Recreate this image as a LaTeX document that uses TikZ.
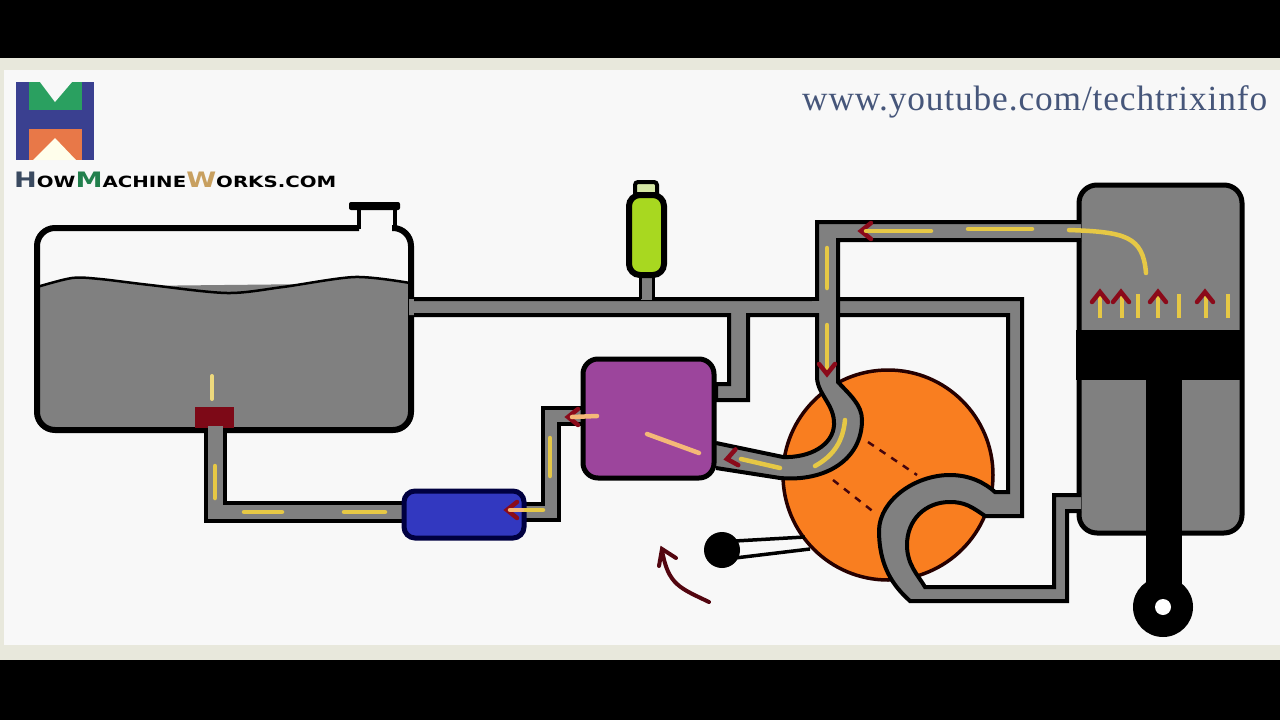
\documentclass[tikz,border=0pt]{standalone}
\usepackage{fontspec}
\usepackage{graphicx}
\setmainfont{Liberation Serif}
\newfontfamily\logofont{DejaVu Sans}
\definecolor{paper}{HTML}{F8F8F8}
\definecolor{frame}{HTML}{E8E8DC}
\definecolor{metal}{HTML}{808080}
\definecolor{fuel}{HTML}{E6C845}
\definecolor{paleb}{HTML}{F4B878}
\definecolor{arrowred}{HTML}{8B0A1A}
\definecolor{pumpc}{HTML}{F97E20}
\definecolor{purplebox}{HTML}{9C459C}
\definecolor{bluebox}{HTML}{3238C0}
\definecolor{lime}{HTML}{A8D820}
\definecolor{urlc}{HTML}{46567A}
\definecolor{logoblue}{HTML}{3A4090}
\definecolor{logogreen}{HTML}{2AA060}
\definecolor{logoorange}{HTML}{E87848}
\definecolor{logoh}{HTML}{3A4A60}
\definecolor{logow}{HTML}{C8A060}
\tikzset{
  pipe/.style={draw=black,line width=4pt,line join=miter},
  dash1/.style={draw=fuel,line width=4.5pt,line cap=round},
  dash2/.style={draw=paleb,line width=4.5pt,line cap=round},
  chev/.style={draw=arrowred,line width=4.5pt,line join=miter,line cap=round},
  pumpdash/.style={draw=black!50!arrowred,line width=2.5pt,dash pattern=on 7pt off 7pt}
}
\newcommand{\chv}[3]{\draw[chev,shift={(#1,#2)},rotate=#3] (-8,10) -- (0,0) -- (8,10);}
\def\mainA{(414,299) -- (1022,299) -- (1022,516) -- (985,516) .. controls (972,507) and (965,502) .. (950,502) .. controls (925,502) and (907,520) .. (907,545) .. controls (907,565) and (918,575) .. (925,587) -- (1054,587) -- (1054,495) -- (1081,495)}
\def\mainB{(1081,511) -- (1067,511) -- (1067,601) -- (910,601) .. controls (892,585) and (879,565) .. (879,530) .. controls (880,500) and (915,475) .. (950,475) .. controls (970,475) and (985,483) .. (995,492) -- (1008,492) -- (1008,315) -- (748,315) -- (748,400) -- (716,400) -- (716,384) -- (729,384) -- (729,315) -- (414,315)}
\def\upA{(1081,222) -- (817,222) -- (817,378) .. controls (818,395) and (835,405) .. (834,425) .. controls (833,445) and (810,458) .. (783,457) -- (716,443)}
\def\upB{(716,468) -- (780,478) .. controls (825,482) and (862,460) .. (862,420) .. controls (862,405) and (850,395) .. (838,382) -- (838,240) -- (1081,240)}
\begin{document}
\begin{tikzpicture}[x=1pt,y=-1pt]
\useasboundingbox (0,0) rectangle (1280,720);
% background
\fill[black] (0,0) rectangle (1280,720);
\fill[frame] (0,58) rectangle (1280,660);
\fill[paper] (4,70) rectangle (1280,645);
% logo
\fill[logoblue] (16,82) rectangle (94,160);
\fill[logogreen] (29,82) rectangle (82,110);
\fill[paper] (40,82) -- (55,102) -- (72,82) -- cycle;
\fill[logoorange] (29,129) rectangle (82,160);
\fill[yellow!8!white] (33,160) -- (55,138) -- (76,160) -- cycle;
\node[inner sep=0pt,anchor=base west] (logotext) at (14,187) {\resizebox{322pt}{15.5pt}{\logofont\bfseries
  {\fontsize{22}{22}\selectfont\color{logoh}H}{\fontsize{16}{16}\selectfont\color{black}OW}{\fontsize{22}{22}\selectfont\color{logogreen!80!black}M}{\fontsize{16}{16}\selectfont\color{black}ACHINE}{\fontsize{22}{22}\selectfont\color{logow}W}{\fontsize{16}{16}\selectfont\color{black}ORKS.COM}}};
\node[inner sep=0pt,anchor=base west] (url) at (802,110) {\resizebox{465pt}{!}{\fontsize{32}{32}\selectfont\addfontfeature{LetterSpace=2.5}\color{urlc}www.youtube.com/techtrixinfo}};
% tank
\fill[metal,rounded corners=15pt] (37,287) -- (37,430) -- (411,430) -- (411,283) -- cycle;
\fill[metal] (37,287) -- plot[smooth] coordinates {(37,287)(72,278)(100,279)(150,285)(227,293)(283,287)(355,277)(410,283)} -- (410,350) -- (37,350) -- cycle;
\draw[black,line width=2.5pt] plot[smooth] coordinates {(37,287)(72,278)(100,279)(150,285)(227,293)(283,287)(355,277)(410,283)};
\draw[black,line width=6pt,rounded corners=18pt,line join=miter] (359,228) -- (37,228) -- (37,430) -- (411,430) -- (411,228) -- (392,228);
\draw[black,line width=4pt] (359,229) -- (359,205);
\draw[black,line width=4pt] (395,229) -- (395,205);
\fill[black,rounded corners=2pt] (349,202) rectangle (400,210);
% valve
\fill[arrowred!90!black] (195,407) rectangle (234,428);
% fuel line tank-filter
\fill[metal] (206,428) -- (206,521) -- (410,521) -- (410,503) -- (225,503) -- (225,428) -- cycle;
\draw[pipe] (206,428) -- (206,521) -- (410,521);
\draw[pipe] (410,503) -- (225,503) -- (225,428);
\fill[metal] (208,426) rectangle (223,434);
% filter-carb
\fill[metal] (515,504) -- (543,504) -- (543,408) -- (590,408) -- (590,424) -- (559,424) -- (559,520) -- (515,520) -- cycle;
\draw[pipe] (515,504) -- (543,504) -- (543,408) -- (590,408);
\draw[pipe] (590,424) -- (559,424) -- (559,520) -- (515,520);
% pump
\draw[black!85!red,fill=pumpc,line width=3.5pt] (888,475) circle (105);
% lever
\draw[black,line width=3.5pt] (735,541) -- (805,537);
\draw[black,line width=3.5pt] (735,558) -- (810,549);
\fill[black] (722,550) circle (18);
% dashed passages
\draw[pumpdash] (868,442) -- (917,475);
\draw[pumpdash] (833,480) -- (875,513);
% cylinder
\draw[black,fill=metal,line width=5pt,rounded corners=18pt] (1079,185) rectangle (1242,533);
\fill[black] (1076,330) rectangle (1244,380);
\fill[black] (1146,380) rectangle (1182,595);
\fill[black] (1163,607) circle (30);
\fill[white] (1163,607) circle (8);
% main pipe
\fill[metal] (409,299) -- \mainA -- \mainB -- (409,315) -- cycle;
\draw[pipe] \mainA;
\draw[pipe] \mainB;
% injector
\fill[metal] (641,276) rectangle (652,300);
\draw[black,line width=3pt] (640,276) -- (640,299);
\draw[black,line width=3pt] (653,276) -- (653,299);
\draw[black,fill=black!10!lime!40!white,line width=4pt,rounded corners=3pt] (635,182) rectangle (657,196);
\draw[black,fill=lime,line width=6pt,rounded corners=11pt] (629,195) rectangle (664,275);
\fill[black] (634,192) rectangle (659,196);
% upper pipe
\fill[metal] \upA -- \upB -- cycle;
\draw[pipe] \upA;
\draw[pipe] \upB;
\fill[metal] (812,301) rectangle (820,313);
% blue filter
\draw[black!75!blue,fill=bluebox,line width=5pt,rounded corners=11pt] (404,491) rectangle (524,538);
% purple box
\draw[black,fill=purplebox,line width=5pt,rounded corners=15pt] (583,359) rectangle (714,478);
% flow marks
\draw[draw=fuel!70!white,line width=4pt,line cap=round] (212,376) -- (212,399);
\draw[dash1] (215,466) -- (215,498);
\draw[dash1] (244,512) -- (282,512);
\draw[dash1] (344,512) -- (385,512);
\chv{507}{510}{90}
\draw[dash1] (522,510) -- (543,510);
\draw[dash2] (522,510) -- (510,510);
\draw[dash1] (550,438) -- (550,476);
\chv{568}{417}{90}
\draw[dash2] (572,417) -- (597,416);
\draw[dash2] (647,434) -- (699,453);
\chv{727}{459}{100}
\draw[dash1] (741,459) -- (780,468);
\draw[dash1] (815,466) .. controls (835,455) and (843,440) .. (845,420);
\draw[dash1] (827,248) -- (827,288);
\draw[dash1] (827,325) -- (827,372);
\chv{827}{374}{180}
\chv{861}{231}{90}
\draw[dash1] (866,231) -- (931,231);
\draw[dash1] (968,229) -- (1032,229);
\draw[dash1] (1069,230) .. controls (1125,232) and (1143,236) .. (1146,273);
\foreach \x in {1100,1122,1138,1158,1179,1206,1228}{\draw[dash1,line cap=butt] (\x,294) -- (\x,318);}
\foreach \x in {1100,1121,1158,1205}{\chv{\x}{292}{0}}
% curved arrow
\draw[black!40!arrowred,line width=4pt,line cap=round] (709,602) .. controls (680,588) and (668,585) .. (662,550);
\draw[black!40!arrowred,line width=4pt,line cap=round,line join=miter] (659,566) -- (662,549) -- (676,558);
\end{tikzpicture}
\end{document}
